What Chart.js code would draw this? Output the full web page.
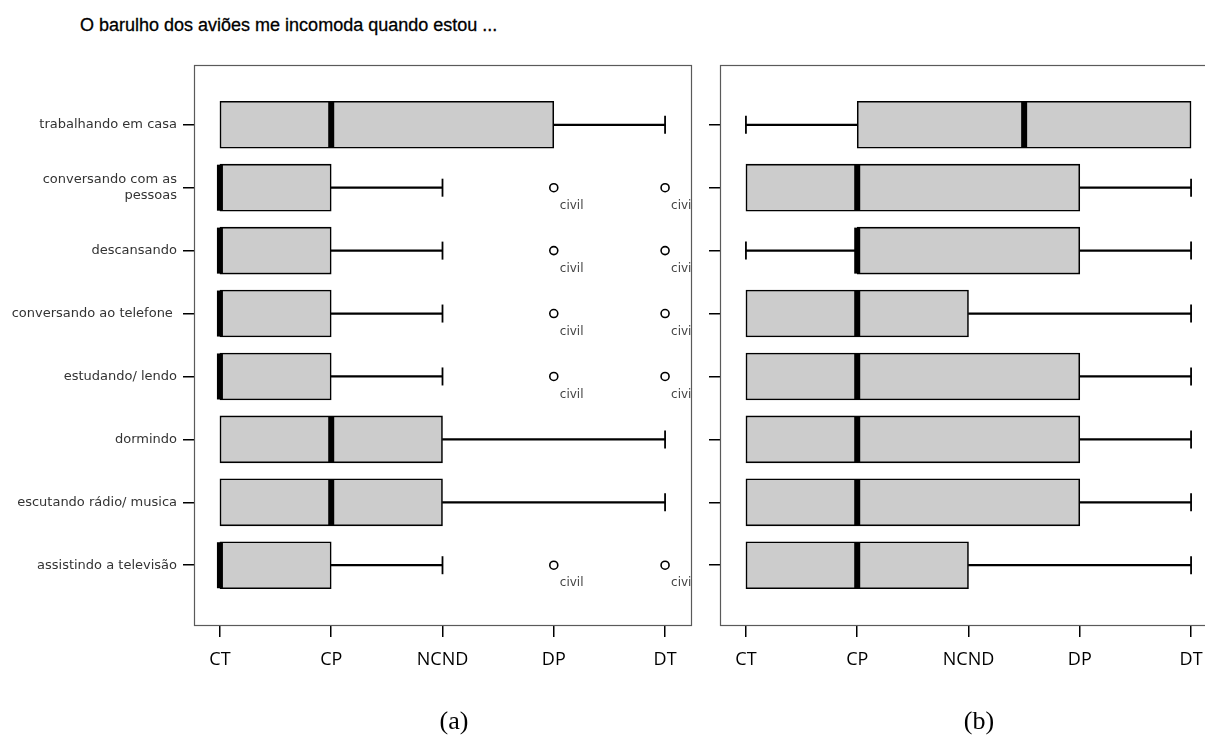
<!DOCTYPE html>
<html>
<head>
<meta charset="utf-8">
<script src="https://cdn.jsdelivr.net/npm/chart.js@4.4.0/dist/chart.umd.min.js"></script>
<style>
  html, body { margin: 0; padding: 0; background: #fff; width: 1205px; height: 740px; overflow: hidden; position: relative; }
  #wrapA { position: absolute; left: 0; top: 0; width: 700px; height: 740px; }
  #wrapB { position: absolute; left: 700px; top: 0; width: 530px; height: 740px; }
  .title { position: absolute; left: 80px; top: 15px; font: 18px "Liberation Sans", Arial, sans-serif; color: #000; white-space: nowrap; -webkit-text-stroke: 0.3px #000; }
  .cap { position: absolute; top: 706px; font: 26px "Liberation Serif", "Times New Roman", serif; color: #000; transform: translateX(-50%); }
</style>
</head>
<body>
<div class="title">O barulho dos aviões me incomoda quando estou ...</div>
<div id="wrapA"><canvas id="chartA" width="700" height="740"></canvas></div>
<div id="wrapB"><canvas id="chartB" width="530" height="740"></canvas></div>
<div class="cap" style="left:454px">(a)</div>
<div class="cap" style="left:979px">(b)</div>

<script>
// Activities (rows, top to bottom) and the agreement scale (1 = CT ... 5 = DT)
const activities = [
  "trabalhando em casa",
  ["conversando com as", "pessoas"],
  "descansando",
  "conversando ao telefone ",
  "estudando/ lendo",
  "dormindo",
  "escutando rádio/ musica",
  "assistindo a televisão"
];
const scaleLabels = ["CT", "CP", "NCND", "DP", "DT"];

// Panel (a): five-number summaries per activity
const aLow    = [1, 1, 1, 1, 1, 1, 1, 1];
const aQ1     = [1, 1, 1, 1, 1, 1, 1, 1];
const aMedian = [2, 1, 1, 1, 1, 2, 2, 1];
const aQ3     = [4, 2, 2, 2, 2, 3, 3, 2];
const aHigh   = [5, 3, 3, 3, 3, 5, 5, 3];
const aOutliers = [[], [4, 5], [4, 5], [4, 5], [4, 5], [], [], [4, 5]];
const outlierLabel = "civil";

// Panel (b)
const bLow    = [1, 1, 1, 1, 1, 1, 1, 1];
const bQ1     = [2, 1, 2, 1, 1, 1, 1, 1];
const bMedian = [3.5, 2, 2, 2, 2, 2, 2, 2];
const bQ3     = [5, 4, 4, 3, 4, 4, 4, 3];
const bHigh   = [5, 5, 5, 5, 5, 5, 5, 5];
const bOutliers = [[], [], [], [], [], [], [], []];

const rowPos = i => i + 1;

function buildDatasets(low, q1, med, q3, high, outliers) {
  const rows = activities.map((_, i) => i);
  const whiskers = [];
  rows.forEach(i => {
    if (high[i] > q3[i]) whiskers.push({ y: rowPos(i), x: [q3[i], high[i]] });
    if (low[i] < q1[i]) whiskers.push({ y: rowPos(i), x: [low[i], q1[i]] });
  });
  const caps = [];
  rows.forEach(i => {
    if (high[i] > q3[i]) caps.push({ x: high[i], y: rowPos(i) });
    if (low[i] < q1[i]) caps.push({ x: low[i], y: rowPos(i) });
  });
  const pts = [];
  rows.forEach(i => outliers[i].forEach(v => pts.push({ x: v, y: rowPos(i) })));

  return [
    {
      type: 'bar', label: 'whisker', indexAxis: 'y', grouped: false, order: 5,
      data: whiskers, barThickness: 1.6, backgroundColor: '#000', borderWidth: 0
    },
    {
      type: 'bar', label: 'box', indexAxis: 'y', grouped: false, order: 3,
      data: rows.map(i => ({ y: rowPos(i), x: [q1[i], q3[i]] })),
      barThickness: 47, backgroundColor: '#cccccc', borderColor: '#000',
      borderWidth: 1.6, borderSkipped: false
    },
    {
      type: 'scatter', label: 'median', order: 1,
      data: rows.map(i => ({ x: med[i], y: rowPos(i) })),
      pointStyle: 'line', rotation: 90, radius: 23, borderWidth: 6,
      borderColor: '#000', backgroundColor: '#000'
    },
    {
      type: 'scatter', label: 'cap', order: 2,
      data: caps, pointStyle: 'line', rotation: 90, radius: 9,
      borderWidth: 1.8, borderColor: '#000'
    },
    {
      type: 'scatter', label: 'outlier', order: 0,
      data: pts, pointStyle: 'circle', radius: 4, borderWidth: 1.6,
      borderColor: '#000', backgroundColor: '#fff'
    }
  ];
}

// Frame around the plotting region
const framePlugin = {
  id: 'frame',
  afterDraw(chart) {
    const { ctx, chartArea: a } = chart;
    ctx.save();
    ctx.strokeStyle = '#5a5a5a';
    ctx.lineWidth = 1.2;
    ctx.strokeRect(a.left + 0.5, a.top + 0.5, a.right - a.left, a.bottom - a.top);
    ctx.restore();
  }
};

// Text next to each outlier, clipped to the plotting region
const outlierTextPlugin = {
  id: 'outlierText',
  afterDatasetsDraw(chart) {
    const { ctx, chartArea: a } = chart;
    const idx = chart.data.datasets.findIndex(d => d.label === 'outlier');
    if (idx < 0) return;
    const meta = chart.getDatasetMeta(idx);
    ctx.save();
    ctx.beginPath();
    ctx.rect(a.left, a.top, a.right - a.left, a.bottom - a.top);
    ctx.clip();
    ctx.fillStyle = '#444';
    ctx.font = '12px "DejaVu Sans", sans-serif';
    ctx.textBaseline = 'middle';
    ctx.textAlign = 'left';
    meta.data.forEach(el => ctx.fillText(outlierLabel, el.x + 6, el.y + 18));
    ctx.restore();
  }
};

function makeOptions(showRowLabels, padding, yWidth) {
  return {
    responsive: false,
    animation: false,
    events: [],
    layout: { padding, autoPadding: false },
    plugins: { legend: { display: false }, tooltip: { enabled: false }, title: { display: false } },
    scales: {
      x: {
        type: 'linear', min: 0.767, max: 5.233, offset: false, beginAtZero: false,
        afterBuildTicks: s => { s.ticks = scaleLabels.map((_, k) => ({ value: k + 1 })); },
        ticks: {
          callback: v => scaleLabels[Math.round(v) - 1],
          font: { family: '"Open Sans", sans-serif', size: 18 },
          color: '#000', padding: 12, maxRotation: 0, autoSkip: false
        },
        grid: { display: true, offset: false, drawOnChartArea: false, drawTicks: true, tickLength: 12, color: '#000', lineWidth: 1.5 },
        border: { display: false },
        afterFit: s => { s.height = 115; }
      },
      y: {
        type: 'linear', min: 0.05, max: 8.95, reverse: true, offset: false, beginAtZero: false,
        afterBuildTicks: s => { s.ticks = activities.map((_, i) => ({ value: rowPos(i) })); },
        ticks: {
          display: showRowLabels,
          callback: v => activities[Math.round(v) - 1],
          font: { family: '"DejaVu Sans", sans-serif', size: 13 },
          color: '#333', padding: 6, autoSkip: false
        },
        grid: { display: true, offset: false, drawOnChartArea: false, drawTicks: true, tickLength: 11, color: '#000', lineWidth: 1.5 },
        border: { display: false },
        afterFit: s => { s.width = yWidth; }
      }
    }
  };
}

new Chart(document.getElementById('chartA'), {
  type: 'bar',
  data: { datasets: buildDatasets(aLow, aQ1, aMedian, aQ3, aHigh, aOutliers) },
  options: makeOptions(true, { top: 65, left: 0, right: 9, bottom: 0 }, 194),
  plugins: [framePlugin, outlierTextPlugin]
});

new Chart(document.getElementById('chartB'), {
  type: 'bar',
  data: { datasets: buildDatasets(bLow, bQ1, bMedian, bQ3, bHigh, bOutliers) },
  options: makeOptions(false, { top: 65, left: 0, right: 13, bottom: 0 }, 20),
  plugins: [framePlugin, outlierTextPlugin]
});
</script>
</body>
</html>
